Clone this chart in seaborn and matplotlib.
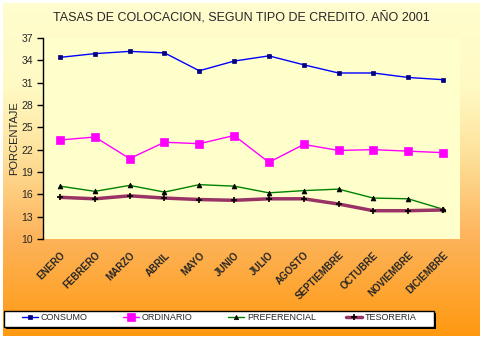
import numpy as np
import pandas as pd
import matplotlib
matplotlib.use("Agg")
import matplotlib.pyplot as plt
import matplotlib.transforms as mtransforms
import seaborn as sns
from matplotlib.lines import Line2D
from matplotlib.patches import Rectangle

months = ["ENERO", "FEBRERO", "MARZO", "ABRIL", "MAYO", "JUNIO", "JULIO",
          "AGOSTO", "SEPTIEMBRE", "OCTUBRE", "NOVIEMBRE", "DICIEMBRE"]
consumo = [34.4, 34.9, 35.2, 35.0, 32.6, 33.9, 34.6, 33.4, 32.3, 32.3, 31.7, 31.4]
ordinario = [23.3, 23.7, 20.8, 23.0, 22.8, 23.9, 20.3, 22.7, 21.9, 22.0, 21.8, 21.6]
preferencial = [17.1, 16.4, 17.2, 16.3, 17.3, 17.1, 16.2, 16.5, 16.7, 15.5, 15.4, 14.0]
tesoreria = [15.6, 15.4, 15.8, 15.5, 15.3, 15.2, 15.4, 15.4, 14.7, 13.8, 13.8, 13.9]
yticks = [10, 13, 16, 19, 22, 25, 28, 31, 34, 37]
title = "TASAS DE COLOCACION, SEGUN TIPO DE CREDITO. AÑO 2001"
ylabel = "PORCENTAJE"

series = {"CONSUMO": consumo, "ORDINARIO": ordinario,
          "PREFERENCIAL": preferencial, "TESORERIA": tesoreria}
df = pd.DataFrame([(i, name, v) for name, vals in series.items()
                   for i, v in enumerate(vals)], columns=["idx", "serie", "valor"])

sns.set_theme(style="white")
plt.rcParams['font.family'] = ['Liberation Sans', 'DejaVu Sans']

W, H = 484, 339
fig = plt.figure(figsize=(W / 100, H / 100), dpi=100, facecolor="white")

# gradient background
bg = fig.add_axes([3 / W, 3 / H, 477 / W, 333 / H], zorder=0)
stops_t = [0.0, 0.25, 0.45, 0.7, 1.0]
stops_c = np.array([[255, 253, 206], [255, 250, 196], [254, 226, 156],
                    [253, 180, 92], [255, 153, 16]]) / 255.0
t = np.linspace(0, 1, 300)
grad = np.stack([np.interp(t, stops_t, stops_c[:, k]) for k in range(3)], axis=-1)
grad = np.repeat(grad[:, None, :], 2, axis=1)
bg.imshow(grad, aspect="auto", extent=[0, 1, 0, 1], origin="upper")
bg.set_axis_off()

ax = fig.add_axes([43 / W, (H - 239) / H, (460 - 43) / W, (239 - 38) / H], zorder=1)
ax.set_facecolor("#FFFFCC")

styles = {
    "CONSUMO": dict(color="#0000FF", lw=1.0, marker="s", ms=2.5, mfc="#000080", mec="#000080"),
    "ORDINARIO": dict(color="#FF00FF", lw=1.0, marker="s", ms=6, mfc="#FF00FF", mec="#FF00FF"),
    "PREFERENCIAL": dict(color="#008000", lw=1.0, marker="^", ms=3.5, mfc="black", mec="black"),
    "TESORERIA": dict(color="#993366", lw=2.5, marker="+", ms=5, mfc="black", mec="black", mew=1.2),
}
for name in series:
    st = styles[name]
    sub = df[df.serie == name]
    sns.lineplot(data=sub, x="idx", y="valor", ax=ax, color=st["color"], lw=st["lw"],
                 marker=st["marker"], markersize=st["ms"], markerfacecolor=st["mfc"],
                 markeredgecolor=st["mec"], markeredgewidth=st.get("mew", 0.5),
                 legend=False)

ax.set_xlim(-0.49, 11.49)
ax.set_ylim(10, 37)
ax.set_yticks(yticks)
ax.set_yticklabels([str(v) for v in yticks], fontsize=7.5)
ax.set_xticks(range(len(months)))
ax.set_xticklabels(months, rotation=45, ha="right", va="top", rotation_mode="anchor",
                   fontsize=7, fontweight="bold")
offset = mtransforms.ScaledTranslation(-5 / 100, 2 / 100, fig.dpi_scale_trans)
for lab in ax.get_xticklabels():
    lab.set_transform(lab.get_transform() + offset)
ax.tick_params(axis="y", direction="out", length=4, width=1, color="black", pad=3, left=True)
ax.tick_params(axis="x", length=0, pad=8)
for s in ["top", "right", "bottom"]:
    ax.spines[s].set_visible(False)
ax.spines["left"].set_color("black")
ax.spines["left"].set_linewidth(1.0)
ax.set_xlabel("")
ax.set_ylabel(ylabel, fontsize=8, labelpad=2)
ax.grid(False)

fig.text(241 / W, 1 - 18 / H, title, ha="center", va="center", fontsize=9)

# legend box with shadow
lx0, ly0, lx1, ly1 = 4, 311, 434, 327
fig.patches.append(Rectangle(((lx0 + 2) / W, 1 - (ly1 + 2) / H), (lx1 - lx0) / W, (ly1 - ly0) / H,
                             transform=fig.transFigure, facecolor="black", edgecolor="none", zorder=2))
fig.patches.append(Rectangle((lx0 / W, 1 - ly1 / H), (lx1 - lx0) / W, (ly1 - ly0) / H,
                             transform=fig.transFigure, facecolor="white", edgecolor="black",
                             lw=1, zorder=3))
entry_x = [22, 123, 228, 346]
for name, xpx in zip(series, entry_x):
    st = styles[name]
    h = Line2D([0], [0], color=st["color"], lw=st["lw"], marker=st["marker"],
               markersize=st["ms"] * 0.9, markerfacecolor=st["mfc"],
               markeredgecolor=st["mec"], markeredgewidth=st.get("mew", 0.5))
    leg = fig.legend([h], [name], loc="center left",
                     bbox_to_anchor=(xpx / W, 1 - 318 / H), frameon=False,
                     fontsize=6.5, handlelength=1.8, handletextpad=0.3,
                     borderaxespad=0, borderpad=0)
    leg.set_zorder(5)

fig.savefig("out.png", dpi=100, facecolor="white")
